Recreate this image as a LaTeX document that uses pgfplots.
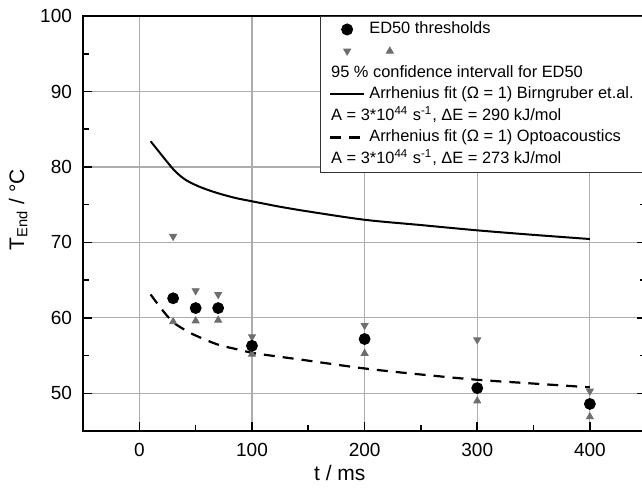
\documentclass[border=0pt]{standalone}
\usepackage{pgfplots}
\pgfplotsset{compat=1.18}
\usepackage{fontspec}
\setmainfont{Liberation Sans}
\definecolor{tri}{HTML}{6E6E6E}
\begin{document}
\begin{tikzpicture}
\begin{axis}[
  scale only axis, width=281.5pt, height=207.5pt,
  xmin=-50, xmax=450, ymin=45, ymax=100,
  xtick={0,100,200,300,400}, ytick={50,60,70,80,90,100},
  minor xtick={-50,50,150,250,350,450}, minor ytick={55,65,75,85,95},
  tick align=inside, xtick pos=left, ytick pos=both,
  major tick length=4.5pt, minor tick length=3pt,
  grid=major,
  grid style={draw=black!32, line width=0.6pt},
  axis line style={line width=0.8pt},
  tick style={color=black, line width=0.8pt},
  ticklabel style={font=\fontsize{9.5}{11}\selectfont},
  /pgf/number format/assume math mode=true,
  xticklabel style={yshift=-2.5pt}, yticklabel style={xshift=-2pt},
  xlabel={t / ms}, ylabel={T\textsubscript{End} / °C},
  label style={font=\fontsize{10.5}{12}\selectfont},
  xlabel style={at={(axis description cs:0.456,-0.101)}, anchor=center},
  ylabel style={at={(axis description cs:-0.115,0.533)}, anchor=center},
  legend style={at={(1,1)}, anchor=north east, draw=black!80, line width=0.5pt,
    fill=white, inner xsep=4pt, inner ysep=1.1pt,
    font=\fontsize{8.2}{9.8}\selectfont, row sep=0pt,
    nodes={inner xsep=2pt, inner ysep=1.6pt, text height=6pt, text depth=1.6pt}},
  legend cell align=left,
]
% Birngruber Arrhenius fit
\addplot[black, line width=1pt, smooth, forget plot] coordinates {
(10,83.4) (17,82.1) (24.5,80.7) (32,79.4) (41,78.3) (53,77.4) (68,76.6)
(85,75.9) (100,75.45) (124,74.75) (150,74.1) (200,73.0) (250,72.3) (300,71.6)
(350,71.0) (400,70.45)};
% Optoacoustics Arrhenius fit
\addplot[black, line width=1.1pt, dash pattern=on 5.5pt off 4pt, smooth, forget plot] coordinates {
(10,63.1) (16,61.9) (24.5,60.3) (32,59.2) (44,58.1) (51,57.6) (62,56.9) (69,56.5)
(79,56.1) (88,55.8) (103,55.3) (142,54.5) (200,53.3) (250,52.5) (300,51.8)
(350,51.3) (400,50.8)};
% confidence interval upper (down triangles)
\addplot[only marks, mark=triangle*, mark size=2pt, color=tri, mark options={rotate=180}, forget plot] coordinates {
(30,70.8) (50,63.6) (70,63.1) (100,57.5) (200,59.0) (300,57.1) (400,50.3)};
% confidence interval lower (up triangles)
\addplot[only marks, mark=triangle*, mark size=2pt, color=tri, forget plot] coordinates {
(30,59.5) (50,59.6) (70,59.7) (100,55.2) (200,55.3) (300,49.0) (400,46.9)};
% ED50 thresholds
\addplot[only marks, mark=*, mark size=2.75pt, black, forget plot] coordinates {
(30,62.6) (50,61.3) (70,61.3) (100,56.3) (200,57.2) (300,50.7) (400,48.6)};

\addlegendimage{only marks, mark=*, mark size=2.75pt, black}
\addlegendentry{ED50 thresholds}
\addlegendimage{legend image code/.code={
  \draw[tri, fill=tri, line width=0.4pt] plot[mark=triangle*, mark size=2pt, mark options={rotate=180}] coordinates {(0.3cm,0cm)};
  \draw[overlay, tri, fill=tri, line width=0.4pt] plot[mark=triangle*, mark size=2pt] coordinates {(1.05cm,0cm)};
}}
\addlegendentry{}
\addlegendimage{empty legend}
\addlegendentry{\hspace*{-0.6cm}\hspace*{-2pt}95 \% confidence intervall for ED50}
\addlegendimage{black, line width=1pt}
\addlegendentry{Arrhenius fit (Ω = 1) Birngruber et.al.}
\addlegendimage{empty legend}
\addlegendentry{\hspace*{-0.6cm}\hspace*{-2pt}A = 3*10\textsuperscript{44} s\textsuperscript{-1}, ΔE = 290 kJ/mol}
\addlegendimage{black, line width=1.1pt, dash pattern=on 5.5pt off 4pt}
\addlegendentry{Arrhenius fit (Ω = 1) Optoacoustics}
\addlegendimage{empty legend}
\addlegendentry{\hspace*{-0.6cm}\hspace*{-2pt}A = 3*10\textsuperscript{44} s\textsuperscript{-1}, ΔE = 273 kJ/mol}
\end{axis}
\pgfresetboundingbox
\path[use as bounding box] ([xshift=-41.5pt,yshift=-30pt]current axis.south west) rectangle ([xshift=-2.1pt,yshift=8pt]current axis.north east);
\end{tikzpicture}
\end{document}
